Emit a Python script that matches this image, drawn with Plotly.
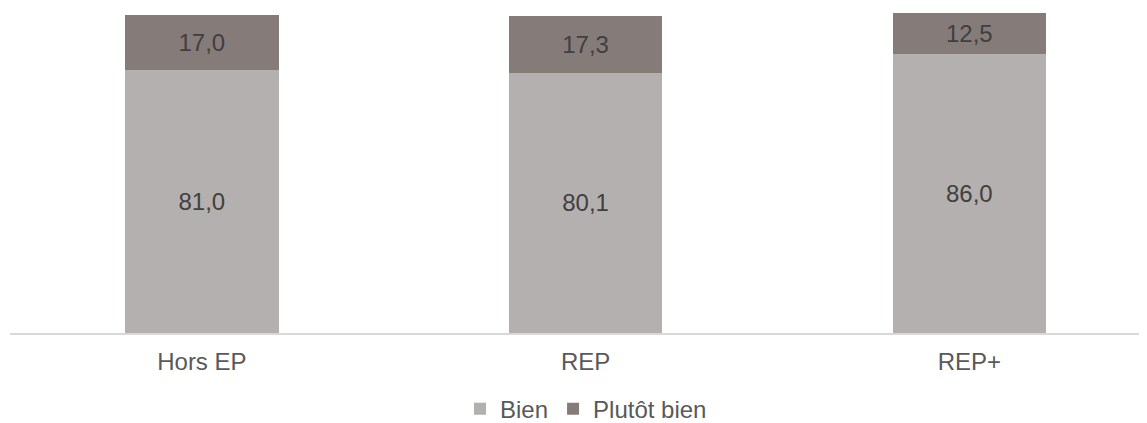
import plotly.graph_objects as go

categories = ["Hors EP", "REP", "REP+"]
bien = [81.0, 80.1, 86.0]
plutot_bien = [17.0, 17.3, 12.5]
series_names = ["Bien", "Plutôt bien"]
colors = ["#b4b0af", "#857c79"]

FONT = "Liberation Sans, Arial, sans-serif"

fig = go.Figure()
for name, vals, col in zip(series_names, [bien, plutot_bien], colors):
    fig.add_trace(go.Bar(
        x=categories, y=vals, name=name,
        marker=dict(color=col, line=dict(width=0)),
        width=0.4,
        texttemplate="%{y:.1f}",
        textposition="inside",
        insidetextanchor="middle",
        constraintext="none",
        textfont=dict(family=FONT, size=24, color="#404040"),
    ))

fig.update_layout(
    barmode="stack",
    width=1139, height=415,
    margin=dict(l=2, r=0, t=0, b=90, autoexpand=False),
    paper_bgcolor="white", plot_bgcolor="white",
    separators=", ",
    font=dict(family=FONT, size=24, color="#595959"),
    showlegend=True,
    legend=dict(
        orientation="h", x=0.5066, xanchor="center", y=-0.234, yanchor="middle",
        font=dict(family=FONT, size=24, color="#595959"),
        itemwidth=30, traceorder="normal", bgcolor="rgba(0,0,0,0)",
    ),
    xaxis=dict(
        range=[-0.5, 2.463], showgrid=False, zeroline=False,
        showline=True, linecolor="#d9d9d9", linewidth=1.5,
        ticks="", ticklabelstandoff=6,
        tickfont=dict(family=FONT, size=24, color="#595959"),
        fixedrange=True,
    ),
    yaxis=dict(range=[0, 100], visible=False, fixedrange=True),
)

fig.write_html("out.html")
